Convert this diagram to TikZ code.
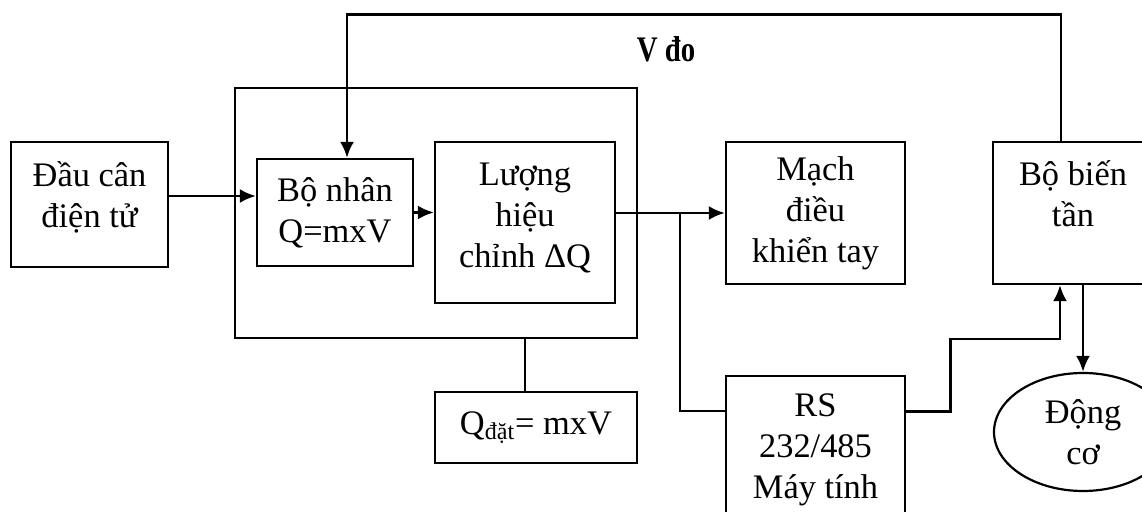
\documentclass[tikz,border=0pt]{standalone}
\usepackage{fontspec}
\setmainfont{Liberation Serif}
\newfontfamily\vdofont[FakeStretch=0.8]{Liberation Serif}
\usepackage{tikz}
\usetikzlibrary{positioning,arrows.meta,shapes.geometric}

\begin{document}
\begin{tikzpicture}[
    x=0.5pt, y=-0.5pt,
    box/.style={
        rectangle,
        draw=black,
        line width=1.1pt,
        inner sep=0pt,
        align=center,
        font=\fontsize{17.2}{20.5}\selectfont
    },
    arrow/.style={
        -{Latex[length=8pt,width=7pt]},
        line width=1.4pt
    },
    wire/.style={
        line width=1.1pt
    }
]

\useasboundingbox (0,0) rectangle (1142,512);
\clip (0,0) rectangle (1142,512);

\node[box,minimum width=78.5pt,minimum height=62.5pt] (dau) at (89.5,204.5)
{Đầu cân\\điện tử\\[-11pt]\mbox{}};

\node[box,minimum width=201pt,minimum height=125pt] (grp) at (436,213) {};

\node[box,minimum width=78pt,minimum height=53.5pt] (nhan) at (335,212.5)
{Bộ nhân\\Q=mxV};

\node[box,minimum width=90pt,minimum height=80.5pt] (luong) at (525,222.5)
{Lượng\\hiệu\\chỉnh ΔQ\\[-13.5pt]\mbox{}};

\node[box,minimum width=101pt,minimum height=35.5pt] (qdat) at (536,427.5)
{Q\textsubscript{đặt}= mxV};

\node[box,minimum width=89.5pt,minimum height=71pt] (mach) at (815.5,213)
{Mạch\\điều\\khiển tay};

\node[box,minimum width=89.5pt,minimum height=74pt,below=45pt of mach] (rs)
{RS\\232/485\\Máy tính};

\node[box,minimum width=80pt,minimum height=71pt] (bien) at (1073,213)
{Bộ biến\\tần\\[-1.5pt]\mbox{}};

\node[box,ellipse,minimum width=89pt,minimum height=59pt] (dongco) at (1083,432)
{Động\\cơ};

\node[font=\vdofont\bfseries\fontsize{18}{20}\selectfont] (vdo) at (666,49)
{V đo};

\draw[arrow]
([yshift=4.25pt]dau.east) -- ([yshift=4.25pt]dau.east -| nhan.west);

\draw[arrow]
(nhan.east) -- (nhan.east -| luong.west);

\draw[arrow]
(mach.west -| luong.east) -- (mach.west);

\coordinate (split) at ([xshift=-22.5pt]mach.west);

\draw[wire]
(split) |- ([yshift=19.5pt]rs.west);

\coordinate (bin) at ([xshift=-6.5pt]bien.south);

\draw[arrow]
([yshift=19.5pt]rs.east) -- ++(44,0) |- ([yshift=-27pt]bin) -- (bin);

\draw[arrow]
(dongco.north |- bien.south) -- (dongco.north);

\draw[arrow]
([xshift=-6pt]bien.north) -- ++(0,-126) -| ([xshift=6pt]nhan.north);

\draw[wire]
(grp.south -| luong) -- (qdat.north -| luong);

\end{tikzpicture}
\end{document}
